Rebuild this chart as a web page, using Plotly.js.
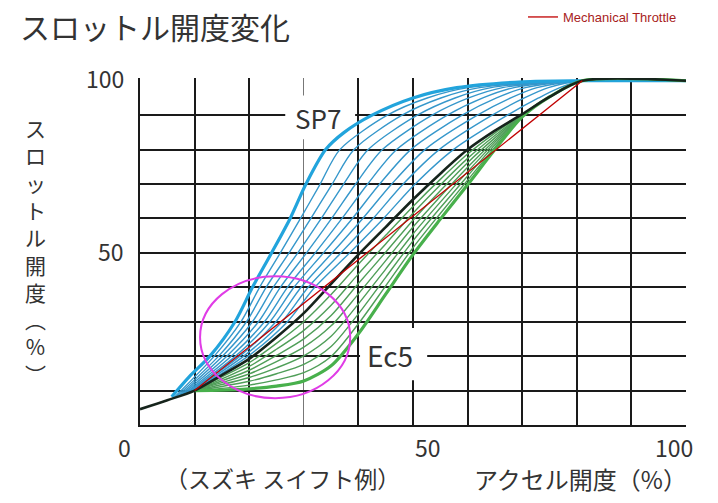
<!DOCTYPE html>
<html>
<head>
<meta charset="utf-8">
<script src="https://cdn.plot.ly/plotly-3.0.1.min.js"></script>
<style>
  body { margin: 0; background: #fff; }
  #myPlot { width: 718px; height: 503px; }
</style>
</head>
<body>
<div id="myPlot"></div>
<script>
// throttle opening vs accelerator opening (Suzuki Swift example)

// stock curve (black)
const base_x = [0, 5, 10, 15, 20, 25, 30, 35, 40, 45, 50, 55, 60, 65, 70, 75, 81, 100];
const base_y = [4.6, 7.2, 10, 14.5, 19.2, 25.5, 32.5, 41, 49.5, 57.5, 65.5, 73, 80, 85.5, 90.3, 95.3, 100, 100];

// mechanical throttle (red)
const mech_x = [10, 81];
const mech_y = [10, 100];

// SP7 outer curve (thick blue)
const sp7_x = [5.8, 9, 12.8, 17.4, 20.6, 24.1, 27.5, 30.4, 34, 37.4, 42.5, 50, 58, 70, 81, 100];
const sp7_y = [8.2, 14, 20, 30, 40, 50, 60, 70, 80, 85, 90, 95, 98, 99.7, 100, 100];

// intermediate sport steps (thin blue), x read at these throttle levels
const sport_levels = [20, 30, 40, 50, 60, 70, 80, 90, 95, 98];
const sport_start_x = [6.2, 6.6, 7.1, 7.5, 7.9, 8.3, 8.7, 9.2, 9.6];
const sport_start_y = [7.9, 8.1, 8.4, 8.6, 8.8, 9.0, 9.3, 9.6, 9.8];
const sport_steps = [
  [13.6, 18.5, 21.9, 25.7, 29.4, 33.0, 36.6, 45.3, 52.6, 60.1],
  [14.4, 19.5, 23.1, 27.3, 31.3, 35.2, 39.2, 48.0, 55.1, 62.2],
  [15.1, 20.6, 24.4, 28.9, 33.2, 37.3, 41.8, 50.8, 57.7, 64.3],
  [15.9, 21.7, 25.7, 30.5, 35.1, 39.5, 44.4, 53.5, 60.2, 66.4],
  [16.7, 22.8, 27.0, 32.1, 37.0, 41.7, 47.0, 56.3, 62.8, 68.5],
  [17.5, 23.8, 28.2, 33.6, 38.9, 43.9, 49.6, 59.0, 65.3, 70.6],
  [18.3, 24.9, 29.5, 35.2, 40.8, 46.1, 52.2, 61.8, 67.9, 72.7],
  [19.0, 26.0, 30.8, 36.8, 42.7, 48.2, 54.8, 64.5, 70.4, 74.8],
  [19.8, 27.0, 32.0, 38.4, 44.6, 50.4, 57.4, 67.3, 73.0, 76.9]
];

// eco curves, y read at these accelerator positions
const eco_x = [10, 15, 20, 25, 30, 35, 40, 45, 50, 55, 60, 65, 70, 75, 81, 100];
const ec5_y = [10, 10.1, 10.5, 11.3, 12.8, 17.2, 26.5, 38, 49.5, 59.8, 69.8, 80, 89.5, 95.3, 100, 100];
const eco_steps = [
  [10, 13.95, 18.1, 23.7, 30.0, 37.9, 46.7, 55.1, 63.5, 71.35, 78.7, 84.8, 90.2, 95.3, 100, 100],
  [10, 13.4, 17.0, 22.0, 27.5, 34.8, 43.9, 52.6, 61.5, 69.7, 77.45, 84.1, 90.1, 95.3, 100, 100],
  [10, 12.85, 15.9, 20.2, 25.0, 31.8, 41.1, 50.2, 59.5, 68.05, 76.2, 83.4, 90.0, 95.3, 100, 100],
  [10, 12.3, 14.85, 18.4, 22.6, 28.8, 38.1, 47.75, 57.5, 66.4, 74.9, 82.75, 89.9, 95.3, 100, 100],
  [10, 11.75, 13.8, 16.6, 20.1, 25.8, 35.2, 45.3, 55.5, 64.75, 73.6, 82.1, 89.8, 95.3, 100, 100],
  [10, 11.2, 12.7, 14.9, 17.6, 22.8, 32.3, 42.9, 53.5, 63.1, 72.35, 81.4, 89.7, 95.3, 100, 100],
  [10, 10.65, 11.6, 13.1, 15.2, 19.9, 29.4, 40.4, 51.5, 61.45, 71.1, 80.7, 89.6, 95.3, 100, 100]
];

const highlight_x = [11, 38.5];
const highlight_y = [7.8, 43.2];

const jp_font = 'Noto Sans CJK JP';
const text_color = '#333333';

// plot area in pixels, used to place the loose texts
const plot_left = 140, plot_width = 546, plot_bottom = 425, plot_height = 347;
const px_x = (px) => (px - plot_left) / plot_width;
const px_y = (py) => (plot_bottom - py) / plot_height;

let traces = [];

for (let i = 0; i < sport_steps.length; i++) {
  traces.push({
    x: [sport_start_x[i]].concat(sport_steps[i], [81, 100]),
    y: [sport_start_y[i]].concat(sport_levels, [100, 100]),
    type: 'scatter',
    mode: 'lines',
    line: { color: '#3597cb', width: 1.4, shape: 'spline', smoothing: 0.8 },
    showlegend: false,
    hoverinfo: 'skip'
  });
}

traces.push({
  x: sp7_x,
  y: sp7_y,
  type: 'scatter',
  mode: 'lines',
  line: { color: '#22a4dc', width: 3.2, shape: 'spline', smoothing: 0.8 },
  showlegend: false,
  hoverinfo: 'skip'
});

for (let i = 0; i < eco_steps.length; i++) {
  traces.push({
    x: eco_x,
    y: eco_steps[i],
    type: 'scatter',
    mode: 'lines',
    line: { color: '#4f9e58', width: 1.4, shape: 'spline', smoothing: 0.8 },
    showlegend: false,
    hoverinfo: 'skip'
  });
}

traces.push({
  x: eco_x,
  y: ec5_y,
  type: 'scatter',
  mode: 'lines',
  line: { color: '#48b04c', width: 3.2, shape: 'spline', smoothing: 0.8 },
  showlegend: false,
  hoverinfo: 'skip'
});

traces.push({
  x: base_x,
  y: base_y,
  type: 'scatter',
  mode: 'lines',
  line: { color: '#16241c', width: 2.6, shape: 'spline', smoothing: 0.8 },
  showlegend: false,
  hoverinfo: 'skip'
});

traces.push({
  x: mech_x,
  y: mech_y,
  type: 'scatter',
  mode: 'lines',
  line: { color: '#c00000', width: 1.3 },
  name: 'Mechanical Throttle',
  showlegend: true,
  hoverinfo: 'skip'
});

let notes = [];

// vertical y-title, one character per line
notes.push({
  text: ['ス', 'ロ', 'ッ', 'ト', 'ル', '開', '度', '︵', '%', '︶'].join('<br>'),
  xref: 'paper', yref: 'paper',
  x: px_x(35), y: px_y(251),
  xanchor: 'center', yanchor: 'middle',
  showarrow: false,
  font: { family: jp_font, size: 21, color: text_color }
});

const tick_notes = [
  { text: '100', px: 126, py: 78, xanchor: 'right' },
  { text: '50', px: 126, py: 251, xanchor: 'right' },
  { text: '0', px: 124, py: 447, xanchor: 'center' },
  { text: '50', px: 428, py: 447, xanchor: 'center' },
  { text: '100', px: 674, py: 447, xanchor: 'center' }
];
tick_notes.forEach(t => {
  notes.push({
    text: t.text, x: px_x(t.px), y: px_y(t.py), xref: 'paper', yref: 'paper',
    xanchor: t.xanchor, yanchor: 'middle', showarrow: false,
    font: { family: jp_font, size: 23, color: text_color }
  });
});

notes.push({
  text: '（スズキ スイフト例）', x: px_x(282), y: px_y(478), xref: 'paper', yref: 'paper',
  xanchor: 'center', yanchor: 'middle',
  showarrow: false, font: { family: jp_font, size: 23, color: text_color }
});
notes.push({
  text: 'アクセル開度（%）', x: px_x(580), y: px_y(478), xref: 'paper', yref: 'paper',
  xanchor: 'center', yanchor: 'middle',
  showarrow: false, font: { family: jp_font, size: 24, color: text_color }
});
notes.push({
  text: 'SP7', x: 32.6, y: 89.3, xref: 'x', yref: 'y',
  xanchor: 'center', yanchor: 'middle', showarrow: false,
  font: { family: jp_font, size: 26, color: text_color }
});
notes.push({
  text: 'Ec5', x: 45.8, y: 20.3, xref: 'x', yref: 'y',
  xanchor: 'center', yanchor: 'middle', showarrow: false,
  font: { family: jp_font, size: 28, color: text_color }
});

// white patches that break the grid behind the two labels
const label_gap = (x0, x1, y0, y1) => ({
  type: 'rect', xref: 'x', yref: 'y', x0: x0, x1: x1, y0: y0, y1: y1,
  fillcolor: '#ffffff', line: { width: 0 }, layer: 'between'
});

const layout = {
  width: 718,
  height: 503,
  margin: { l: 140, r: 32, t: 78, b: 78, autoexpand: false },
  paper_bgcolor: '#ffffff',
  plot_bgcolor: '#ffffff',
  title: {
    text: 'スロットル開度変化',
    x: 20 / 718, xanchor: 'left',
    y: 1 - 28 / 503, yanchor: 'middle',
    font: { family: jp_font, size: 30, color: text_color }
  },
  xaxis: {
    range: [0, 100],
    tickmode: 'array',
    tickvals: [10, 20, 40, 50, 60, 70, 80, 90],
    showticklabels: false,
    ticks: '',
    showgrid: true,
    gridcolor: '#1a1a1a',
    gridwidth: 2,
    minor: { tickmode: 'array', tickvals: [30, 99.85], showgrid: true, gridcolor: '#777777', gridwidth: 1, ticks: '' },
    showline: true,
    linecolor: '#1a1a1a',
    linewidth: 2,
    zeroline: false,
    fixedrange: true
  },
  yaxis: {
    range: [0, 100.8],
    tickmode: 'array',
    tickvals: [10, 20, 30, 40, 50, 60, 70, 80, 90],
    showticklabels: false,
    ticks: '',
    showgrid: true,
    gridcolor: '#1a1a1a',
    gridwidth: 2,
    showline: true,
    linecolor: '#1a1a1a',
    linewidth: 2,
    zeroline: false,
    fixedrange: true
  },
  legend: {
    x: px_x(523), y: px_y(2),
    xanchor: 'left', yanchor: 'top',
    bgcolor: 'rgba(0,0,0,0)',
    font: { family: 'Liberation Sans', size: 13, color: '#a81c1c' }
  },
  shapes: [
    label_gap(26.6, 39.4, 83, 95.7),
    label_gap(40.3, 52.6, 13, 28.2),
    {
      type: 'circle',
      xref: 'x', yref: 'y',
      x0: highlight_x[0], x1: highlight_x[1],
      y0: highlight_y[0], y1: highlight_y[1],
      line: { color: '#e03ce6', width: 2 },
      layer: 'above'
    }
  ],
  annotations: notes
};

Plotly.newPlot('myPlot', traces, layout, { displayModeBar: false, staticPlot: true });
</script>
</body>
</html>
